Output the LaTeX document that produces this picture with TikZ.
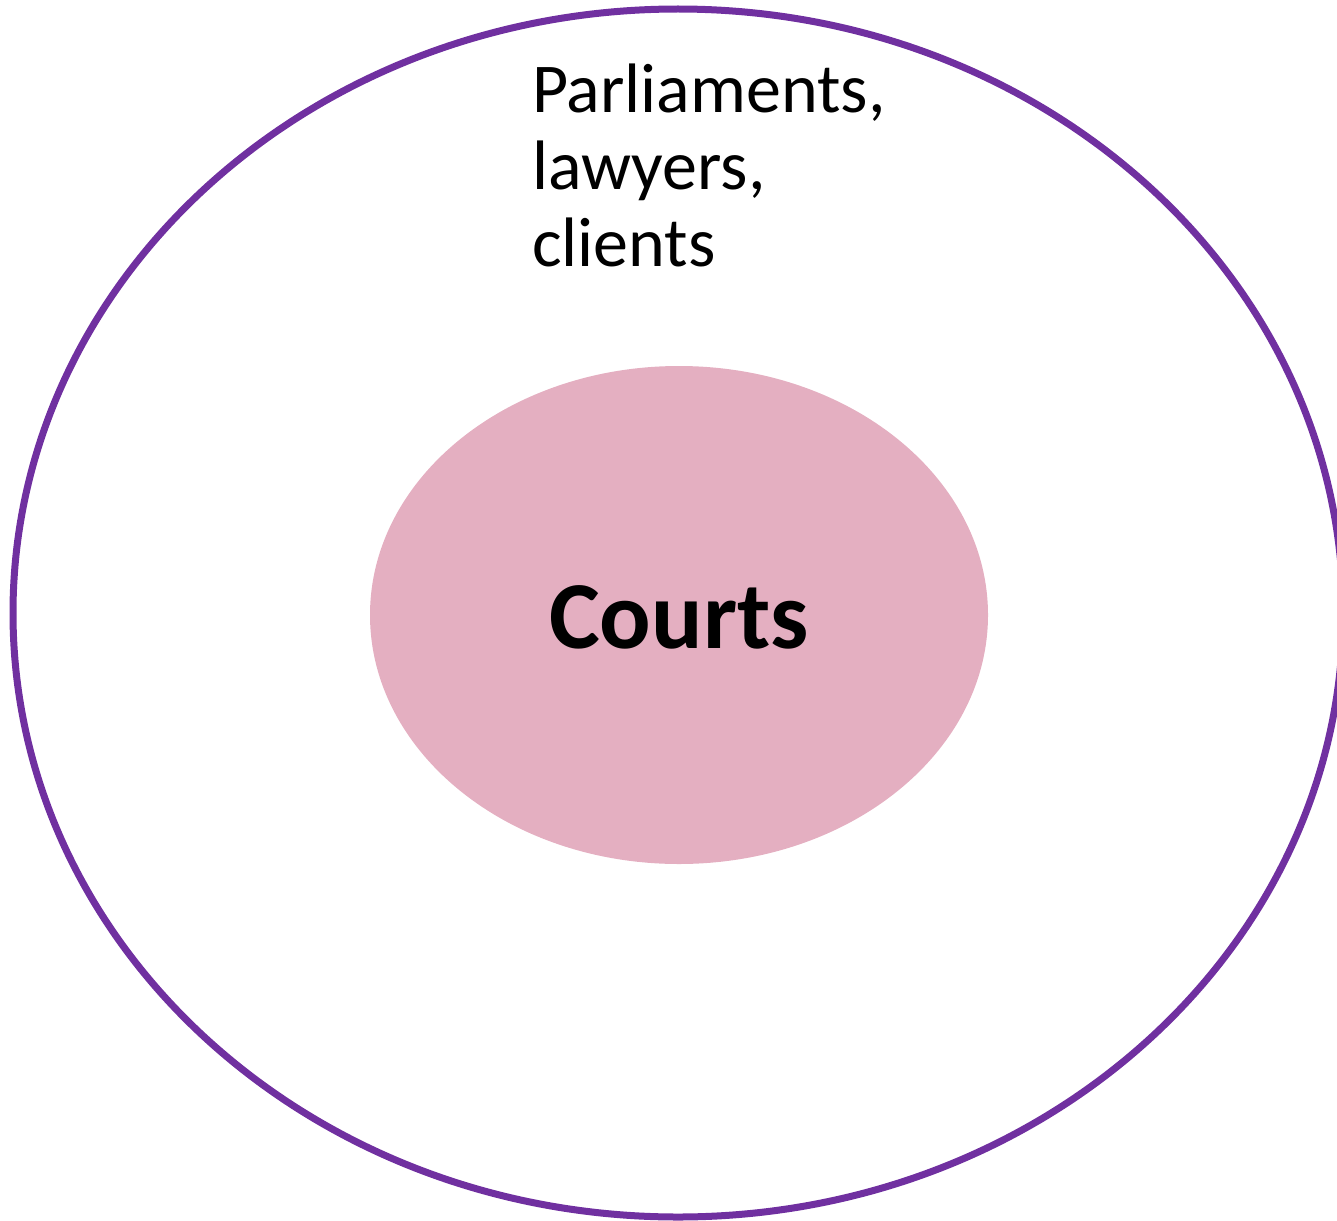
\documentclass[tikz,border=0pt]{standalone}
\usepackage{fontspec}
\setmainfont{Carlito}
\definecolor{ringpurple}{HTML}{7030A0}
\definecolor{courtpink}{HTML}{E4AFC1}
\begin{document}
\begin{tikzpicture}[x=1pt,y=-1pt,
  ring/.style={draw=ringpurple,line width=7pt},
  core/.style={fill=courtpink},
  label/.style={font=\fontsize{70}{77}\selectfont,align=left,inner sep=0pt,anchor=north west},
  corelabel/.style={font=\fontsize{96}{110}\selectfont\bfseries,inner sep=0pt}]
\useasboundingbox (0,0) rectangle (1337,1220);
\draw[ring] (678,613) ellipse [x radius=665,y radius=604];
\path[core] (679,615) ellipse [x radius=309,y radius=249];
\node[corelabel] (courts) at (679,617) {Courts};
\node[label] (actors) at (532,64) {Parliaments,\\lawyers,\\clients};
\end{tikzpicture}
\end{document}
